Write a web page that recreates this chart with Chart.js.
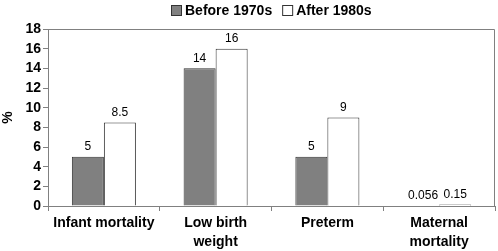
<!DOCTYPE html>
<html>
<head>
<meta charset="utf-8">
<script src="https://cdn.jsdelivr.net/npm/chart.js@4"></script>
<style>
  html, body { margin: 0; padding: 0; background: #fff; }
  #wrap { width: 498px; height: 251px; }
</style>
</head>
<body>
<div id="wrap"><canvas id="c" width="498" height="251"></canvas></div>
<script>
const categories = [["Infant mortality"], ["Low birth", "weight"], ["Preterm"], ["Maternal", "mortality"]];
const before1970s = [5, 14, 5, 0.056];
const after1980s = [8.5, 16, 9, 0.15];
const seriesNames = ["Before 1970s", "After 1980s"];
const yTicks = [0, 2, 4, 6, 8, 10, 12, 14, 16, 18];

const FONT = "'Liberation Sans', Arial, sans-serif";

// value labels above each bar
const barLabels = {
  id: "barLabels",
  afterDatasetsDraw(chart) {
    const ctx = chart.ctx;
    ctx.save();
    ctx.font = "12px " + FONT;
    ctx.fillStyle = "#000";
    ctx.textAlign = "center";
    ctx.textBaseline = "bottom";
    chart.data.datasets.forEach((ds, i) => {
      chart.getDatasetMeta(i).data.forEach((bar, j) => {
        ctx.fillText(String(ds.data[j]), bar.x, bar.y - 4);
      });
    });
    ctx.restore();
  }
};

// frame on top and right of plot area + legend centred over the plot
const frame = {
  id: "frame",
  afterDraw(chart) {
    const a = chart.chartArea, ctx = chart.ctx;
    ctx.save();
    ctx.strokeStyle = "#808080";
    ctx.lineWidth = 1;
    ctx.beginPath();
    ctx.moveTo(a.left, a.top + 0.5);
    ctx.lineTo(a.right - 0.5, a.top + 0.5);
    ctx.lineTo(a.right - 0.5, a.bottom);
    ctx.stroke();

    ctx.font = "bold 14px " + FONT;
    ctx.textBaseline = "middle";
    ctx.textAlign = "left";
    const box = 10, gap = 4, itemGap = 10;
    const items = chart.data.datasets.map(ds => ({ ds, w: box + gap + ctx.measureText(ds.label).width }));
    const total = items.reduce((s, it) => s + it.w, 0) + itemGap * (items.length - 1);
    let x = Math.round((a.left + a.right) / 2 - total / 2);
    const y = 10;
    items.forEach(it => {
      ctx.fillStyle = it.ds.backgroundColor;
      ctx.fillRect(x + 0.5, y - 5 + 0.5, box, box);
      ctx.strokeStyle = "#333";
      ctx.strokeRect(x + 0.5, y - 5 + 0.5, box, box);
      ctx.fillStyle = "#000";
      ctx.fillText(it.ds.label, x + box + gap, y + 1);
      x += it.w + itemGap;
    });
    ctx.restore();
  }
};

new Chart(document.getElementById("c"), {
  type: "bar",
  data: {
    labels: categories,
    datasets: [
      { label: seriesNames[0], data: before1970s, backgroundColor: "#808080", borderColor: "#333", borderWidth: 1 },
      { label: seriesNames[1], data: after1980s, backgroundColor: "#fff", borderColor: "#333", borderWidth: 1 }
    ]
  },
  options: {
    responsive: false,
    animation: false,
    layout: { padding: { top: 29, right: 3, left: 0, bottom: 0 } },
    categoryPercentage: 0.573,
    barPercentage: 1,
    plugins: {
      tooltip: { enabled: false },
      legend: { display: false }
    },
    scales: {
      x: {
        grid: { display: true, offset: true, drawOnChartArea: false, tickLength: 5, color: "#808080" },
        border: { color: "#808080" },
        ticks: {
          color: "#000",
          maxRotation: 0,
          autoSkip: false,
          padding: 2,
          font: { family: FONT, size: 14, weight: "bold", lineHeight: 1.4 }
        },
        afterFit(scale) { scale.height = 45; }
      },
      y: {
        min: 0, max: 18,
        afterBuildTicks(scale) { scale.ticks = yTicks.map(v => ({ value: v })); },
        grid: { display: true, drawOnChartArea: false, tickLength: 5, color: "#808080" },
        border: { color: "#808080" },
        ticks: {
          color: "#000",
          autoSkip: false,
          padding: 2,
          font: { family: FONT, size: 14, weight: "bold" }
        },
        title: {
          display: true, text: "%", color: "#000", padding: 0,
          font: { family: FONT, size: 14, weight: "bold" }
        },
        afterFit(scale) { scale.width = 48; }
      }
    }
  },
  plugins: [barLabels, frame]
});
</script>
</body>
</html>
